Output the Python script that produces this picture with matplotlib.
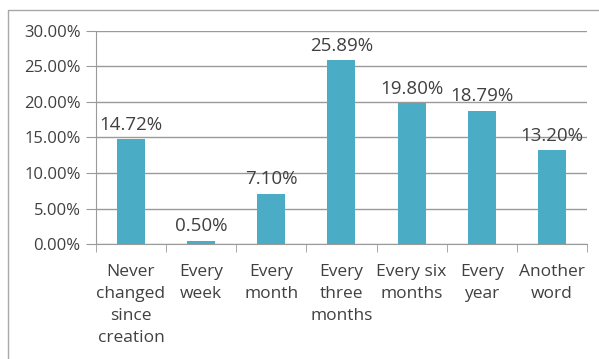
import numpy as np
from matplotlib import pyplot as plt
from matplotlib.lines import Line2D

plt.rcParams["font.family"] = ["Open Sans", "DejaVu Sans"]

#---------------------------------
# Data
categories = ["Never\nchanged\nsince\ncreation", "Every\nweek", "Every\nmonth",
              "Every\nthree\nmonths", "Every six\nmonths", "Every\nyear", "Another\nword"]
shares = [14.72, 0.50, 7.10, 25.89, 19.80, 18.79, 13.20]
y_ticks = [0, 5, 10, 15, 20, 25, 30]

bar_color = "#4BACC6"
text_color = "#404040"
line_color = "#9A9A9A"

#---------------------------------
# Plotting
fig = plt.figure(figsize=(5.99, 3.59), dpi=100)
ax = fig.add_axes([0.160, 0.320, 0.820, 0.594])

x = np.arange(len(categories))
ax.bar(x, shares, width=0.4, color=bar_color, zorder=3)

for xi, v in zip(x, shares):
    ax.annotate(f"{v:.2f}%", (xi, v), xytext=(0, 4), textcoords="offset points",
                ha="center", va="bottom", fontsize=13.5, color=text_color)

#---------------------------------
# Formatting
ax.set_xlim(-0.5, len(categories) - 0.5)
ax.set_ylim(0, 30)
ax.set_yticks(y_ticks)
ax.set_yticklabels([f"{t:.2f}%" for t in y_ticks])
ax.set_xticks(x)
ax.set_xticklabels(categories, linespacing=1.52)
ax.set_xticks(np.arange(-0.5, len(categories)), minor=True)

ax.tick_params(axis="y", length=7, color=line_color, labelsize=12,
               labelcolor=text_color, pad=4)
ax.tick_params(axis="x", which="major", length=0, labelsize=12.5,
               labelcolor=text_color, pad=14)
ax.tick_params(axis="x", which="minor", length=6, color=line_color)

ax.grid(axis="y", color=line_color, linewidth=1, zorder=0)
for side in ["top", "right"]:
    ax.spines[side].set_visible(False)
for side in ["left", "bottom"]:
    ax.spines[side].set_color(line_color)
ax.spines["left"].set_zorder(4)

# chart border (left and top edges only, the picture is cropped)
fig.add_artist(Line2D([8 / 599, 8 / 599, 1.0], [0.0, 1 - 10 / 359, 1 - 10 / 359],
                      transform=fig.transFigure, color="#A8A8A8", linewidth=1))

fig.savefig("out.png", dpi=100)
